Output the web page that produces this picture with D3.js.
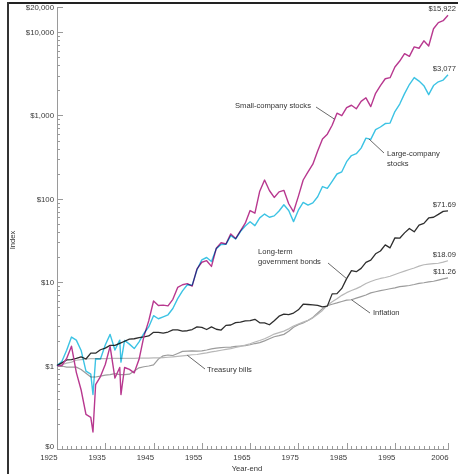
<!DOCTYPE html>
<html>
<head>
<meta charset="utf-8">
<script src="https://cdn.jsdelivr.net/npm/d3@7"></script>
<style>
  html, body { margin: 0; padding: 0; background: #fff; }
  svg { display: block; font-family: "Liberation Sans", Arial, Helvetica, sans-serif; }
  .axis path, .axis line { stroke: #9a9a9a; shape-rendering: crispEdges; }
  .axis text { fill: #3a3a3a; font-size: 7.8px; }
  .lbl { fill: #333; font-size: 7.6px; }
</style>
</head>
<body>
<svg id="chart" width="458" height="474"></svg>
<script>
// Growth of $1 invested at year-end 1925 (index values, year-end)
const startYear = 1925;
const endYear = 2006;

const smallCompany = [1.00, 1.00, 1.22, 1.71, 0.83, 0.51, 0.26, 0.24, 0.59, 0.74,
  1.03, 1.70, 0.71, 0.95, 0.95, 0.90, 0.82, 1.19, 2.24, 3.44,
  5.96, 5.27, 5.32, 5.21, 6.24, 8.66, 9.33, 9.61, 8.99, 14.44,
  17.38, 18.13, 15.48, 25.53, 29.72, 28.74, 37.97, 33.45, 41.34, 51.06,
  72.40, 67.33, 123.6, 168.1, 125.9, 104.0, 121.2, 126.5, 87.4, 70.0,
  107.0, 168.4, 211.2, 260.8, 374.3, 523.6, 596.4, 763.4, 1066.5, 995.1,
  1240.9, 1326.5, 1203.1, 1478.6, 1629.4, 1277.4, 1847.1, 2277.5, 2755.8, 2841.2,
  3821.4, 4494.0, 5518.6, 5115.7, 6640.2, 6401.1, 7860.6, 6815.1, 10951.9, 12967.1,
  13706.2, 15922];

const largeCompany = [1.00, 1.12, 1.53, 2.20, 2.02, 1.52, 0.86, 0.79, 1.21, 1.20,
  1.77, 2.37, 1.54, 2.02, 2.01, 1.81, 1.60, 1.93, 2.43, 2.91,
  3.97, 3.65, 3.85, 4.07, 4.84, 6.36, 7.88, 9.33, 9.23, 14.1,
  18.6, 19.8, 17.7, 25.3, 28.4, 28.5, 36.2, 33.0, 40.6, 47.2,
  53.1, 47.7, 59.2, 65.7, 60.2, 62.5, 71.5, 85.0, 72.5, 53.3,
  73.2, 90.6, 84.1, 89.6, 106.1, 140.5, 133.6, 162.2, 198.7, 211.1,
  279.1, 330.8, 348.1, 406.0, 534.5, 517.5, 675.6, 727.4, 800.1, 810.5,
  1113.9, 1370.0, 1828.3, 2350.9, 2845.6, 2586.5, 2279.1, 1775.3, 2284.8, 2533.4,
  2657.6, 3077];

const govBonds = [1.00, 1.08, 1.17, 1.18, 1.22, 1.27, 1.20, 1.41, 1.41, 1.55,
  1.62, 1.75, 1.75, 1.85, 1.96, 2.08, 2.10, 2.16, 2.21, 2.27,
  2.51, 2.51, 2.45, 2.53, 2.69, 2.69, 2.59, 2.62, 2.71, 2.91,
  2.87, 2.71, 2.91, 2.73, 2.67, 3.04, 3.07, 3.28, 3.32, 3.44,
  3.46, 3.59, 3.26, 3.25, 3.09, 3.46, 3.92, 4.14, 4.09, 4.27,
  4.67, 5.45, 5.41, 5.35, 5.28, 5.07, 5.17, 7.25, 7.30, 8.43,
  11.04, 13.75, 13.37, 14.67, 17.32, 18.39, 21.94, 23.71, 28.03, 25.86,
  34.04, 33.73, 39.07, 44.18, 40.22, 48.35, 50.81, 59.01, 60.17, 65.09,
  70.85, 71.69];

const treasuryBills = [1.00, 1.03, 1.07, 1.10, 1.16, 1.18, 1.20, 1.21, 1.21, 1.21,
  1.21, 1.22, 1.22, 1.22, 1.22, 1.22, 1.22, 1.23, 1.23, 1.23,
  1.24, 1.24, 1.25, 1.26, 1.27, 1.29, 1.31, 1.33, 1.35, 1.36,
  1.39, 1.42, 1.46, 1.49, 1.53, 1.57, 1.60, 1.65, 1.70, 1.76,
  1.83, 1.92, 2.00, 2.10, 2.24, 2.39, 2.49, 2.59, 2.76, 2.99,
  3.16, 3.32, 3.49, 3.74, 4.13, 4.59, 5.27, 5.82, 6.34, 6.96,
  7.50, 7.96, 8.39, 8.93, 9.67, 10.2, 10.7, 11.1, 11.4, 11.8,
  12.4, 13.0, 13.6, 14.2, 14.8, 15.6, 16.2, 16.5, 16.7, 16.9,
  17.4, 18.09];

const inflation = [1.00, 0.99, 0.96, 0.96, 0.96, 0.90, 0.81, 0.73, 0.73, 0.75,
  0.77, 0.78, 0.80, 0.78, 0.78, 0.79, 0.86, 0.94, 0.97, 0.99,
  1.02, 1.20, 1.31, 1.34, 1.32, 1.40, 1.48, 1.49, 1.50, 1.49,
  1.50, 1.54, 1.59, 1.62, 1.64, 1.66, 1.67, 1.70, 1.72, 1.74,
  1.78, 1.84, 1.89, 1.98, 2.10, 2.22, 2.29, 2.37, 2.58, 2.89,
  3.10, 3.25, 3.47, 3.78, 4.28, 4.81, 5.24, 5.45, 5.65, 5.88,
  6.10, 6.17, 6.44, 6.72, 7.03, 7.46, 7.69, 7.92, 8.13, 8.35,
  8.56, 8.85, 9.00, 9.14, 9.39, 9.71, 9.86, 10.09, 10.28, 10.62,
  10.98, 11.26];

// Intra-year troughs of the Depression and 1938 slump
const smallTroughs = [[1932.45, 0.16], [1938.25, 0.45]];
const largeTroughs = [[1932.45, 0.45], [1938.25, 1.1]];

const endLabels = ["$15,922", "$3,077", "$71.69", "$18.09", "$11.26"];
const yTickValues = [0.1, 1, 10, 100, 1000, 10000, 20000];
const yTickLabels = ["$0", "$1", "$10", "$100", "$1,000", "$10,000", "$20,000"];
const xTickValues = [1925, 1935, 1945, 1955, 1965, 1975, 1985, 1995, 2006];

// ---- layout ----
const W = 458, H = 474;
const plotLeft = 57, plotRight = 448, plotTop = 7, plotBottom = 449;

const svg = d3.select("#chart");
svg.append("rect").attr("width", W).attr("height", H).attr("fill", "#fff");

const x = d3.scaleLinear().domain([startYear, endYear]).range([plotLeft, plotRight]);
const y = d3.scaleLog().domain([0.1, 20000]).range([plotBottom, plotTop]);

const years = d3.range(startYear, endYear + 1);
const toPoints = (vals, extra = []) =>
  years.map((yr, i) => [yr, vals[i]]).concat(extra).sort((a, b) => a[0] - b[0]);

// page frame
svg.append("line").attr("x1", 8).attr("x2", W).attr("y1", 3).attr("y2", 3)
  .attr("stroke", "#222").attr("stroke-width", 2);
svg.append("line").attr("x1", 8).attr("x2", 8).attr("y1", 2).attr("y2", H)
  .attr("stroke", "#333").attr("stroke-width", 2);

// ---- axes ----
const minorY = [];
for (let e = -1; e <= 3; e++) for (let m = 2; m <= 9; m++) minorY.push(m * Math.pow(10, e));

svg.append("g").attr("class", "axis").attr("transform", `translate(${plotLeft},0)`)
  .call(d3.axisLeft(y).tickValues(minorY).tickSizeInner(-3).tickSizeOuter(0).tickFormat(""));
const yAxis = svg.append("g").attr("class", "axis").attr("transform", `translate(${plotLeft},0)`)
  .call(d3.axisLeft(y).tickValues(yTickValues).tickSizeInner(-6).tickSizeOuter(0).tickPadding(3)
    .tickFormat((d, i) => yTickLabels[i]));
// lift the bottom label clear of the first year label
yAxis.selectAll("text").filter(d => d === 0.1).attr("dy", "-0.1em");

svg.append("g").attr("class", "axis").attr("transform", `translate(0,${plotBottom})`)
  .call(d3.axisBottom(x).tickValues(years).tickSizeInner(-3).tickSizeOuter(0).tickFormat(""));
const xAxis = svg.append("g").attr("class", "axis").attr("transform", `translate(0,${plotBottom})`)
  .call(d3.axisBottom(x).tickValues(xTickValues).tickSizeInner(-6).tickSizeOuter(0).tickPadding(5)
    .tickFormat(d3.format("d")));
xAxis.selectAll("text").attr("text-anchor", "end");

svg.append("text").attr("class", "lbl").attr("x", 247).attr("y", 471)
  .attr("text-anchor", "middle").text("Year-end");
svg.append("text").attr("class", "lbl")
  .attr("transform", "translate(15,240) rotate(-90)")
  .attr("text-anchor", "middle").text("Index");

// ---- series ----
const line = d3.line().x(d => x(d[0])).y(d => y(d[1]));
const series = [
  { name: "inflation", pts: toPoints(inflation), color: "#9c9c9c", w: 1.2 },
  { name: "tbills", pts: toPoints(treasuryBills), color: "#b8b8b8", w: 1.2 },
  { name: "bonds", pts: toPoints(govBonds), color: "#2e2e2e", w: 1.3 },
  { name: "small", pts: toPoints(smallCompany, smallTroughs), color: "#b8388f", w: 1.4 },
  { name: "large", pts: toPoints(largeCompany, largeTroughs), color: "#3cc3e4", w: 1.4, blend: true }
];
series.forEach(s => {
  svg.append("path").datum(s.pts)
    .attr("fill", "none").attr("stroke", s.color).attr("stroke-width", s.w)
    .attr("stroke-linejoin", "round")
    .style("mix-blend-mode", s.blend ? "multiply" : null)
    .attr("d", line);
});

// ---- annotations ----
const valueAt = (vals, yr) => {
  const i = Math.floor(yr - startYear), f = yr - startYear - i;
  if (f === 0) return vals[i];
  return Math.exp(Math.log(vals[i]) * (1 - f) + Math.log(vals[i + 1]) * f);
};

const notes = [
  { lines: ["Small-company stocks"], vals: smallCompany, yr: 1982.5, tx: 235, ty: 108, lx: 316, ly: 107 },
  { lines: ["Large-company", "stocks"], vals: largeCompany, yr: 1989.6, tx: 387, ty: 156, lx: 384, ly: 153 },
  { lines: ["Long-term", "government bonds"], vals: govBonds, yr: 1985, tx: 258, ty: 254, lx: 328, ly: 263 },
  { lines: ["Inflation"], vals: inflation, yr: 1986, tx: 373, ty: 315, lx: 370, ly: 313 },
  { lines: ["Treasury bills"], vals: treasuryBills, yr: 1952, tx: 207, ty: 372, lx: 205, ly: 369 }
];
notes.forEach(n => {
  svg.append("line")
    .attr("x1", n.lx).attr("y1", n.ly)
    .attr("x2", x(n.yr)).attr("y2", y(valueAt(n.vals, n.yr)))
    .attr("stroke", "#444").attr("stroke-width", 0.8);
  const t = svg.append("text").attr("class", "lbl").attr("x", n.tx).attr("y", n.ty);
  n.lines.forEach((s, i) => t.append("tspan").attr("x", n.tx).attr("dy", i ? 9.5 : 0).text(s));
});

// closing values
const finals = [smallCompany, largeCompany, govBonds, treasuryBills, inflation];
finals.forEach((vals, i) => {
  svg.append("text").attr("class", "lbl")
    .attr("x", 456).attr("y", y(vals[vals.length - 1]) - 4)
    .attr("text-anchor", "end").text(endLabels[i]);
});
</script>
</body>
</html>
